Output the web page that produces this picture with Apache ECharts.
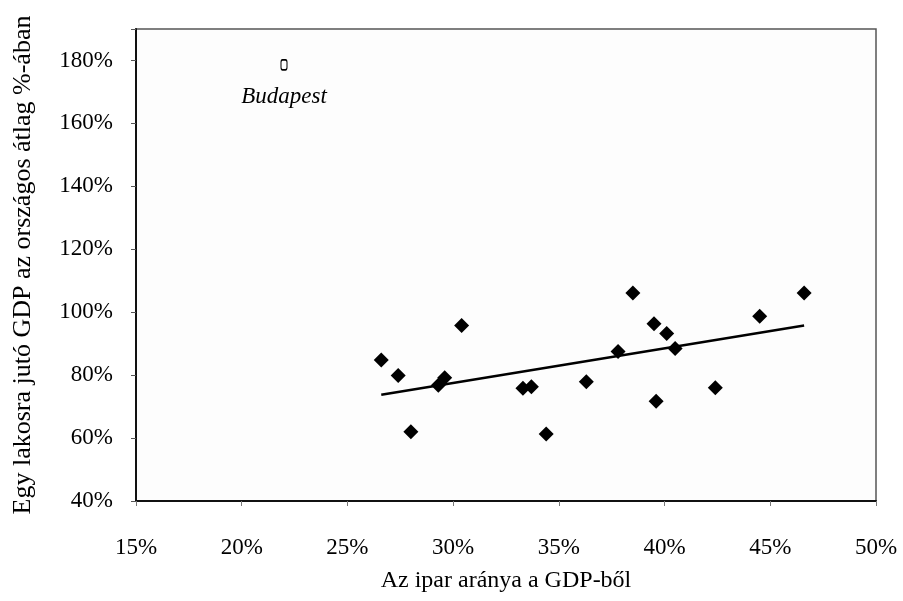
<!DOCTYPE html>
<html>
<head>
<meta charset="utf-8">
<script src="https://cdn.jsdelivr.net/npm/echarts@6/dist/echarts.min.js"></script>
<style>
html,body{margin:0;padding:0;background:#fff;}
#chart{width:903px;height:601px;}
</style>
</head>
<body>
<div id="chart"></div>
<script>
// ipar aránya (x, %) és egy főre jutó GDP (y, % of national avg)
var iparArany = [26.6, 27.4, 28.0, 29.3, 29.6, 30.4, 33.3, 33.7, 34.4, 36.3, 37.8, 38.5, 39.5, 40.1, 40.5, 39.6, 42.4, 44.5, 46.6];
var gdpArany  = [84.8, 79.9, 62.0, 76.8, 79.2, 95.8, 75.8, 76.3, 61.3, 77.9, 87.5, 106.1, 96.3, 93.2, 88.5, 71.7, 76.0, 98.7, 106.1];
var budapest = [22.0, 178.6];
var trendX = [26.6, 46.6];
var trendY = [73.8, 95.8];
var xTicks = [15, 50, 5];
var yTicks = [40, 190, 20];

var pontok = iparArany.map(function(v, i){ return [v, gdpArany[i]]; });
var trend = trendX.map(function(v, i){ return [v, trendY[i]]; });

var font = 'Liberation Serif';
var myChart = echarts.init(document.getElementById('chart'));
var option = {
	backgroundColor : '#fff',
	animation : false,
	grid : {
		left : 136,
		right : 27,
		top : 29,
		bottom : 100,
		show : true,
		borderColor : '#555',
		borderWidth : 1.5,
		backgroundColor : '#fdfdfd'
	},
	xAxis : {
		type : 'value',
		min : xTicks[0],
		max : xTicks[1],
		interval : xTicks[2],
		name : 'Az ipar aránya a GDP-ből',
		nameLocation : 'middle',
		nameGap : 68,
		nameTextStyle : { fontFamily : font, fontSize : 24, color : '#000' },
		axisLine : { show : true, onZero : false, lineStyle : { color : '#111', width : 2 } },
		axisTick : { show : true, length : 5, lineStyle : { color : '#777' } },
		axisLabel : {
			margin : 35,
			fontFamily : font, fontSize : 23, color : '#000',
			formatter : function(v){ return v + '%'; }
		},
		splitLine : { show : false }
	},
	yAxis : {
		type : 'value',
		min : yTicks[0],
		max : yTicks[1],
		interval : yTicks[2],
		name : 'Egy lakosra jutó GDP az országos átlag %-ában',
		nameLocation : 'middle',
		nameGap : 100,
		nameTextStyle : { fontFamily : font, fontSize : 26, color : '#000' },
		axisLine : { show : true, onZero : false, lineStyle : { color : '#111', width : 2 } },
		axisTick : { show : true, length : 5, lineStyle : { color : '#555' } },
		axisLabel : {
			margin : 23,
			fontFamily : font, fontSize : 23, color : '#000',
			formatter : function(v){ return v > 180 ? '' : v + '%'; }
		},
		splitLine : { show : false }
	},
	series : [ {
		type : 'line',
		data : trend,
		symbol : 'none',
		lineStyle : { color : '#000', width : 2.5 },
		z : 2
	}, {
		type : 'scatter',
		data : pontok,
		symbol : 'diamond',
		symbolSize : 15,
		itemStyle : { color : '#000', opacity : 1 },
		z : 3
	}, {
		type : 'scatter',
		data : [budapest],
		symbol : 'roundRect',
		symbolSize : [6, 10],
		itemStyle : { color : '#fff', borderColor : '#000', borderWidth : 1.3, opacity : 1 },
		label : {
			show : true,
			position : 'bottom',
			distance : 15,
			formatter : 'Budapest',
			fontFamily : font,
			fontStyle : 'italic',
			fontSize : 23,
			color : '#000'
		},
		z : 3
	} ]
};
myChart.setOption(option);
</script>
</body>
</html>
